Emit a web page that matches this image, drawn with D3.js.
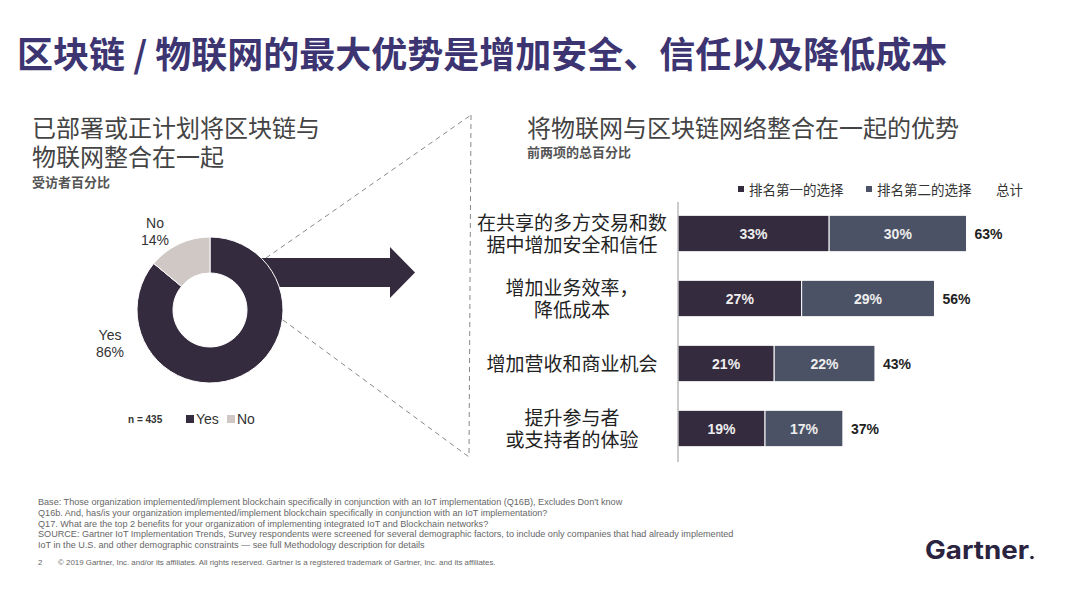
<!DOCTYPE html>
<html>
<head>
<meta charset="UTF-8">
<title>区块链 / 物联网</title>
<script src="https://cdn.jsdelivr.net/npm/d3@7"></script>
<style type="text/css">
body { margin: 0; background: #fff; }
svg { display: block; font-family: "Liberation Sans", Arial, "Noto Sans CJK SC", sans-serif; }
.cjk { font-family: "Noto Sans CJK SC", sans-serif; }
</style>
</head>
<body>
<div class="chart"></div>
<script>
// donut data
var pieLabels = ["Yes", "No"];
var pieValues = [86, 14];

// bar data
var categories = [
  ["在共享的多方交易和数", "据中增加安全和信任"],
  ["增加业务效率，", "降低成本"],
  ["增加营收和商业机会"],
  ["提升参与者", "或支持者的体验"]
];
var firstChoice = [33, 27, 21, 19];
var secondChoice = [30, 29, 22, 17];
var totals = [63, 56, 43, 37];
var seriesNames = ["排名第一的选择", "排名第二的选择"];

var footnotes = [
  "Base: Those organization implemented/implement blockchain specifically in conjunction with an IoT implementation (Q16B), Excludes Don't know",
  "Q16b. And, has/is your organization implemented/implement blockchain specifically in conjunction with an IoT implementation?",
  "Q17. What are the top 2 benefits for your organization of implementing integrated IoT and Blockchain networks?",
  "SOURCE: Gartner IoT Implementation Trends, Survey respondents were screened for several demographic factors, to include only companies that had already implemented",
  "IoT in the U.S. and other demographic constraints \u2014 see full Methodology description for details"
];

var dark = "#352b3e", slate = "#4b5266", light = "#cfc8c5";

var svg = d3.select(".chart").append("svg")
  .attr("width", 1080).attr("height", 603);

// main title
svg.append("text").attr("class", "cjk")
  .attr("x", 17).attr("y", 68)
  .attr("font-size", 36).attr("font-weight", "bold")
  .attr("fill", "#3d3472")
  .text("区块链 / 物联网的最大优势是增加安全、信任以及降低成本");

// left titles
svg.append("text").attr("class", "cjk").attr("x", 32).attr("y", 137)
  .attr("font-size", 24).attr("fill", "#444").text("已部署或正计划将区块链与");
svg.append("text").attr("class", "cjk").attr("x", 32).attr("y", 166)
  .attr("font-size", 24).attr("fill", "#444").text("物联网整合在一起");
svg.append("text").attr("class", "cjk").attr("x", 32).attr("y", 187)
  .attr("font-size", 13).attr("font-weight", "bold").attr("fill", "#555").text("受访者百分比");

// dashed connector
var dash = svg.append("g").attr("stroke", "#888").attr("stroke-width", 1)
  .attr("stroke-dasharray", "5,4").attr("fill", "none");
dash.append("line").attr("x1", 266).attr("y1", 258).attr("x2", 471).attr("y2", 115);
dash.append("line").attr("x1", 283).attr("y1", 320).attr("x2", 469).attr("y2", 457);
dash.append("line").attr("x1", 471).attr("y1", 115).attr("x2", 469).attr("y2", 457);

// arrow
var cx = 210, cy = 310;
svg.append("path")
  .attr("d", "M" + (cx + 40) + ",258 L390,258 L390,247 L415,272.5 L390,298 L390,287 L" + (cx + 40) + ",287 Z")
  .attr("fill", dark);

// donut
var pie = d3.pie().sort(null).value(function (d) { return d; });
var arc = d3.arc().innerRadius(37).outerRadius(73);
var pieColor = d3.scaleOrdinal().domain(pieLabels).range([dark, light]);
var donut = svg.append("g").attr("transform", "translate(" + cx + "," + cy + ")");
donut.selectAll("path").data(pie(pieValues)).enter().append("path")
  .attr("d", arc)
  .attr("fill", function (d, i) { return pieColor(pieLabels[i]); })
  .attr("stroke", "#fff").attr("stroke-width", 1);

var pieText = [[155, 223], [110, 335]];
pieLabels.forEach(function (l, i) {
  var p = pieText[1 - i];
  var t = svg.append("text").attr("text-anchor", "middle").attr("font-size", 14).attr("fill", "#333");
  t.append("tspan").attr("x", p[0]).attr("y", p[1] + 5).text(l);
  t.append("tspan").attr("x", p[0]).attr("y", p[1] + 22).text(pieValues[i] + "%");
});

// donut legend
svg.append("text").attr("x", 128).attr("y", 423).attr("font-size", 10)
  .attr("font-weight", "bold").attr("fill", "#333").text("n = 435");
var lx = [186, 227];
pieLabels.forEach(function (l, i) {
  svg.append("rect").attr("x", lx[i]).attr("y", 415).attr("width", 8).attr("height", 8)
    .attr("fill", pieColor(l));
  svg.append("text").attr("x", lx[i] + 10).attr("y", 424).attr("font-size", 14)
    .attr("fill", "#333").text(l);
});

// right titles
svg.append("text").attr("class", "cjk").attr("x", 527).attr("y", 137)
  .attr("font-size", 24).attr("fill", "#444").text("将物联网与区块链网络整合在一起的优势");
svg.append("text").attr("class", "cjk").attr("x", 527).attr("y", 157)
  .attr("font-size", 13).attr("font-weight", "bold").attr("fill", "#555").text("前两项的总百分比");

// bar chart
var x = d3.scaleLinear().domain([0, 100]).range([678, 1136]);
var y = d3.scaleBand().domain(d3.range(categories.length)).range([201, 461]).paddingInner(0.44).paddingOuter(0.22);

// legend
var legX = [738, 866];
seriesNames.forEach(function (s, i) {
  svg.append("rect").attr("x", legX[i]).attr("y", 186).attr("width", 6).attr("height", 6)
    .attr("fill", i === 0 ? dark : slate);
  svg.append("text").attr("class", "cjk").attr("x", legX[i] + 11).attr("y", 195)
    .attr("font-size", 13.5).attr("fill", "#333").text(s);
});
svg.append("text").attr("class", "cjk").attr("x", 996).attr("y", 195)
  .attr("font-size", 13.5).attr("fill", "#333").text("总计");

var bars = svg.append("g");
categories.forEach(function (c, i) {
  var y0 = y(i), h = y.bandwidth();
  bars.append("rect").attr("x", x(0)).attr("y", y0)
    .attr("width", x(firstChoice[i]) - x(0)).attr("height", h)
    .attr("fill", dark).attr("stroke", "#fff").attr("stroke-width", 1);
  bars.append("rect").attr("x", x(firstChoice[i])).attr("y", y0)
    .attr("width", x(firstChoice[i] + secondChoice[i]) - x(firstChoice[i])).attr("height", h)
    .attr("fill", slate).attr("stroke", "#fff").attr("stroke-width", 1);
  bars.append("text").attr("x", (x(0) + x(firstChoice[i])) / 2).attr("y", y0 + h / 2 + 5)
    .attr("text-anchor", "middle").attr("font-size", 14).attr("font-weight", "bold")
    .attr("fill", "#eee").text(firstChoice[i] + "%");
  bars.append("text").attr("x", (x(firstChoice[i]) + x(firstChoice[i] + secondChoice[i])) / 2)
    .attr("y", y0 + h / 2 + 5)
    .attr("text-anchor", "middle").attr("font-size", 14).attr("font-weight", "bold")
    .attr("fill", "#eee").text(secondChoice[i] + "%");
  bars.append("text").attr("x", x(firstChoice[i] + secondChoice[i]) + 8).attr("y", y0 + h / 2 + 5)
    .attr("font-size", 14).attr("font-weight", "bold").attr("fill", "#222").text(totals[i] + "%");

  var t = bars.append("text").attr("class", "cjk").attr("text-anchor", "middle")
    .attr("font-size", 19).attr("fill", "#222");
  var mid = y0 + h / 2;
  c.forEach(function (line, j) {
    t.append("tspan").attr("x", 572)
      .attr("y", mid + 7 + (j - (c.length - 1) / 2) * 22).text(line);
  });
});

svg.append("line").attr("x1", 678).attr("x2", 678).attr("y1", 202).attr("y2", 462)
  .attr("stroke", "#999").attr("stroke-width", 1);

// footnotes
footnotes.forEach(function (f, i) {
  svg.append("text").attr("x", 38).attr("y", 505 + i * 10.8)
    .attr("font-size", 9.1).attr("fill", "#666").text(f);
});
svg.append("text").attr("x", 38).attr("y", 565).attr("font-size", 7.9).attr("fill", "#666").text("2");
svg.append("text").attr("x", 58).attr("y", 565).attr("font-size", 7.9).attr("fill", "#666")
  .text("\u00a9 2019 Gartner, Inc. and/or its affiliates. All rights reserved. Gartner is a registered trademark of Gartner, Inc. and its affiliates.");

// logo
svg.append("text").attr("x", 925).attr("y", 559).attr("font-size", 25)
  .attr("font-weight", "bold").attr("fill", "#2b2440")
  .attr("textLength", 104).attr("lengthAdjust", "spacingAndGlyphs")
  .attr("font-family", "Inter, 'Liberation Sans', sans-serif").text("Gartner");
svg.append("circle").attr("cx", 1032).attr("cy", 557.5).attr("r", 1.8).attr("fill", "#2b2440");
</script>
</body>
</html>
